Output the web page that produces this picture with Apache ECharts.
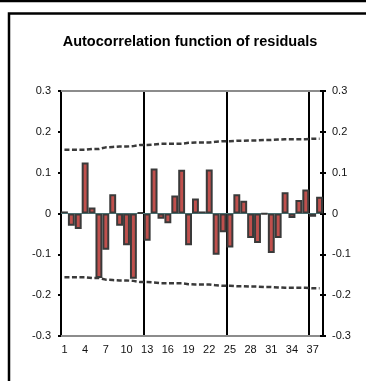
<!DOCTYPE html>
<html>
<head>
<meta charset="utf-8">
<script src="https://cdn.jsdelivr.net/npm/echarts@6/dist/echarts.min.js"></script>
<style>
  html, body { margin: 0; padding: 0; background: #fff; }
  #chart { width: 366px; height: 381px; }
</style>
</head>
<body>
<div id="chart"></div>
<script>
// Residual autocorrelations by lag, with the approximate 95% band.
const lags = ['1','2','3','4','5','6','7','8','9','10','11','12','13','14','15','16','17','18','19',
  '20','21','22','23','24','25','26','27','28','29','30','31','32','33','34','35','36','37','38'];

const acf = [0.005, -0.030, -0.038, 0.125, 0.015, -0.158, -0.089, 0.047, -0.030, -0.078,
  -0.160, 0.003, -0.067, 0.110, -0.013, -0.024, 0.044, 0.107, -0.078, 0.037,
  0.005, 0.108, -0.101, -0.046, -0.083, 0.047, 0.031, -0.060, -0.072, -0.001,
  -0.097, -0.060, 0.052, -0.011, 0.033, 0.059, -0.008, 0.041];

const upperBand = [0.156, 0.156, 0.156, 0.156, 0.158, 0.158, 0.162, 0.163, 0.164, 0.164,
  0.165, 0.168, 0.168, 0.169, 0.171, 0.171, 0.171, 0.171, 0.173, 0.174,
  0.174, 0.174, 0.176, 0.177, 0.177, 0.178, 0.178, 0.179, 0.179, 0.180,
  0.180, 0.181, 0.182, 0.182, 0.182, 0.182, 0.183, 0.183];

const lowerBand = [-0.156, -0.156, -0.156, -0.156, -0.158, -0.158, -0.162, -0.163, -0.164, -0.164,
  -0.165, -0.168, -0.168, -0.169, -0.171, -0.171, -0.171, -0.171, -0.173, -0.174,
  -0.174, -0.174, -0.176, -0.177, -0.177, -0.178, -0.178, -0.179, -0.179, -0.180,
  -0.180, -0.181, -0.182, -0.182, -0.182, -0.182, -0.183, -0.183];

const yMin = -0.3, yMax = 0.3, yStep = 0.1;
const titleText = 'Autocorrelation function of residuals';

const chart = echarts.init(document.getElementById('chart'), null, { renderer: 'canvas' });
const fontFam = '"Liberation Sans", Arial, sans-serif';
const fmt = v => String(Math.round(v * 10) / 10);

const valueAxisBase = {
  type: 'value', min: yMin, max: yMax, interval: yStep,
  splitLine: { show: false }
};

chart.setOption({
  backgroundColor: '#fff',
  animation: false,
  title: {
    text: titleText, left: 185, top: 29, textAlign: 'center',
    textStyle: { fontFamily: fontFam, fontSize: 14.5, fontWeight: 'bold', color: '#000' }
  },
  graphic: [
    { type: 'line', shape: { x1: 0, y1: 1, x2: 366, y2: 1 }, style: { stroke: '#000', lineWidth: 2.5 } },
    { type: 'rect', shape: { x: 9, y: 13.5, width: 400, height: 400 }, style: { fill: 'none', stroke: '#000', lineWidth: 2.5 } }
  ],
  grid: { left: 61, right: 43, top: 91, bottom: 45 },
  xAxis: [
    {
      type: 'category', data: lags, position: 'bottom',
      axisLine: { onZero: false, lineStyle: { color: '#8c8c8c', width: 2 } },
      axisTick: { show: false },
      axisLabel: { interval: 2, margin: 8, color: '#111', fontFamily: fontFam, fontSize: 11 },
      splitLine: {
        show: true,
        interval: i => i > 0 && i % 12 === 0,
        lineStyle: { color: '#000', width: 2 }
      }
    },
    {
      type: 'category', data: lags, position: 'bottom',
      axisLine: { onZero: true, onZeroAxisIndex: 0, lineStyle: { color: '#5a9ea0', width: 1 } },
      axisTick: { show: false }, axisLabel: { show: false }, splitLine: { show: false }
    },
    {
      type: 'category', data: lags, position: 'top',
      axisLine: { onZero: false, lineStyle: { color: '#8c8c8c', width: 2 } },
      axisTick: { show: false }, axisLabel: { show: false }, splitLine: { show: false }
    }
  ],
  yAxis: [
    Object.assign({}, valueAxisBase, {
      position: 'left',
      axisLine: { show: true, lineStyle: { color: '#000', width: 2 } },
      axisTick: { show: true, length: 3, lineStyle: { color: '#000', width: 2 } },
      axisLabel: { formatter: fmt, margin: 10, color: '#111', fontFamily: fontFam, fontSize: 11 }
    }),
    Object.assign({}, valueAxisBase, {
      position: 'right',
      axisLine: { show: true, lineStyle: { color: '#000', width: 2 } },
      axisTick: { show: true, length: 3, lineStyle: { color: '#000', width: 2 } },
      axisLabel: { formatter: fmt, margin: 9, color: '#111', fontFamily: fontFam, fontSize: 11 }
    }),
    Object.assign({}, valueAxisBase, {
      position: 'right',
      axisLine: { show: false },
      axisTick: { show: true, inside: true, length: 3, lineStyle: { color: '#000', width: 2 } },
      axisLabel: { show: false }
    })
  ],
  series: [
    {
      name: 'ACF', type: 'bar', data: acf, xAxisIndex: 0, yAxisIndex: 0,
      barCategoryGap: '0%',
      itemStyle: { color: '#c0504d', borderColor: '#3a3a3a', borderWidth: 2 }
    },
    {
      name: 'Upper', type: 'line', data: upperBand, xAxisIndex: 0, yAxisIndex: 0,
      symbol: 'none', lineStyle: { color: '#3a3a3a', width: 2.5, type: [5, 2.5] }, z: 3
    },
    {
      name: 'Lower', type: 'line', data: lowerBand, xAxisIndex: 0, yAxisIndex: 0,
      symbol: 'none', lineStyle: { color: '#3a3a3a', width: 2.5, type: [5, 2.5] }, z: 3
    }
  ]
});
</script>
</body>
</html>
